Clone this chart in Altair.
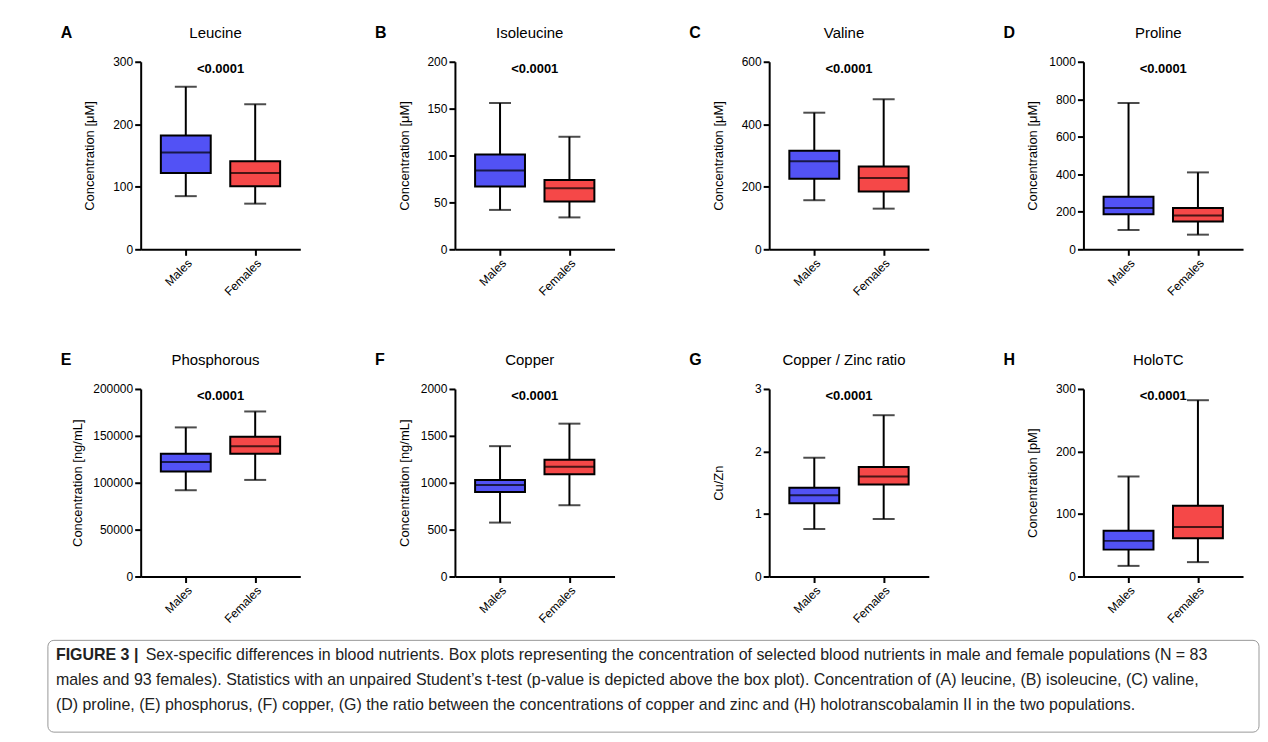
import pandas as pd
import altair as alt

sexes = ["Males", "Females"]
colors = ["#5252f5", "#f54848"]

letters = ["A", "B", "C", "D", "E", "F", "G", "H"]
names = ["Leucine", "Isoleucine", "Valine", "Proline", "Phosphorous", "Copper", "Copper / Zinc ratio", "HoloTC"]
ytitles = ["Concentration [μM]"] * 4 + ["Concentration [ng/mL]", "Concentration [ng/mL]", "Cu/Zn", "Concentration [pM]"]
ymax = [300, 200, 600, 1000, 200000, 2000, 3, 300]
ysteps = [100, 50, 200, 200, 50000, 500, 1, 100]

# min, q1, median, q3, max  (Males, Females)
stats = [
    [[85, 122, 155, 182, 260], [73, 101, 122, 141, 232]],
    [[42, 67, 84, 101, 156], [34, 51, 65, 74, 120]],
    [[157, 226, 282, 315, 437], [130, 185, 228, 265, 480]],
    [[103, 187, 220, 280, 780], [78, 148, 180, 220, 410]],
    [[92000, 112000, 122000, 131000, 159000], [103000, 131000, 139000, 149000, 176000]],
    [[575, 900, 975, 1030, 1390], [760, 1090, 1170, 1245, 1630]],
    [[0.76, 1.17, 1.30, 1.42, 1.90], [0.92, 1.47, 1.60, 1.75, 2.58]],
    [[17, 43, 57, 73, 160], [23, 61, 79, 113, 282]],
]
pvalue = "<0.0001"

caption_head = "FIGURE 3 |"
caption = [
    "Sex-specific differences in blood nutrients. Box plots representing the concentration of selected blood nutrients in male and female populations (N = 83",
    "males and 93 females). Statistics with an unpaired Student’s t-test (p-value is depicted above the box plot). Concentration of (A) leucine, (B) isoleucine, (C) valine,",
    "(D) proline, (E) phosphorus, (F) copper, (G) the ratio between the concentrations of copper and zinc and (H) holotranscobalamin II in the two populations.",
]

W, H = 160, 188


def txt(t, x, y, color="black", **kw):
    return alt.Chart(pd.DataFrame({"t": [t]})).mark_text(color=color, **kw).encode(
        text="t:N", x=alt.value(x), y=alt.value(y))


def panel(i):
    rows = []
    for s, c, v in zip(sexes, colors, stats[i]):
        rows.append(dict(sex=s, color=c, lo=v[0], q1=v[1], med=v[2], q3=v[3], hi=v[4]))
    df = pd.DataFrame(rows)
    ticks = [k * ysteps[i] for k in range(int(round(ymax[i] / ysteps[i])) + 1)]
    x = alt.X("sex:N", sort=sexes, title=None,
              scale=alt.Scale(type="point", padding=0.65),
              axis=alt.Axis(labelAngle=-45, labelFontSize=12, labelColor="black",
                            domainColor="black", tickColor="black", domainWidth=2, tickWidth=2, tickSize=6))
    yax = alt.Axis(values=ticks, tickCount=len(ticks), grid=False, labelFontSize=12, labelColor="black",
                   labelOverlap=False, labelBound=False,
                   titleFontSize=13, titleFontWeight="normal", titleColor="black",
                   titlePadding=16 if ymax[i] >= 100000 else 4,
                   domainColor="black", tickColor="black", domainWidth=2, tickWidth=2, tickSize=6,
                   minExtent=40, maxExtent=40, format="d" if ymax[i] > 10 else "")
    ysc = alt.Scale(domain=[0, ymax[i]], nice=False, zero=True)
    base = alt.Chart(df).encode(x=x)
    whisk = base.mark_rule(color="black", strokeWidth=2).encode(
        y=alt.Y("lo:Q", scale=ysc, axis=yax, title=ytitles[i]), y2="hi:Q")
    box = base.mark_bar(size=50, stroke="black", strokeWidth=2).encode(
        y="q1:Q", y2="q3:Q", color=alt.Color("color:N", scale=None))
    med = base.mark_tick(color="black", size=50, thickness=2).encode(y="med:Q")
    cap1 = base.mark_tick(color="black", size=22, thickness=2).encode(y="lo:Q")
    cap2 = base.mark_tick(color="black", size=22, thickness=2).encode(y="hi:Q")
    lab = txt(letters[i], -80, -29, fontSize=16, fontWeight="bold", align="left")
    name = txt(names[i], W / 2 - 5, -29, fontSize=15)
    pv = txt(pvalue, W / 2, 7, fontSize=13, fontWeight="bold")
    return alt.layer(whisk, box, med, cap1, cap2, lab, name, pv).properties(width=W, height=H)


row1 = alt.hconcat(*[panel(i) for i in range(4)], spacing=75)
row2 = alt.hconcat(*[panel(i) for i in range(4, 8)], spacing=75)

X0 = -93
border = alt.Chart(pd.DataFrame({"a": [0]})).mark_rect(
    fill=None, stroke="#999", strokeWidth=1, cornerRadius=6).encode(
    x=alt.value(X0), x2=alt.value(X0 + 1214), y=alt.value(0), y2=alt.value(92))
cap_layers = [border, txt(caption_head, X0 + 8, 15, color="#222", align="left", baseline="middle",
                          fontSize=16, fontWeight="bold")]
for k, line in enumerate(caption):
    cap_layers.append(txt(line, X0 + (98 if k == 0 else 8), 15 + 25 * k, color="#222", align="left",
                          baseline="middle", fontSize=16))
cap = alt.layer(*cap_layers).properties(width=1100, height=92)

grid = alt.vconcat(row1, row2, spacing=54)
chart = alt.vconcat(grid, cap, spacing=14).configure(
    font="Liberation Sans", padding={"left": 39, "top": 16, "right": 0, "bottom": 0}
).configure_view(stroke=None)
chart.save("out.html", embed_options={"renderer": "svg", "actions": False})
